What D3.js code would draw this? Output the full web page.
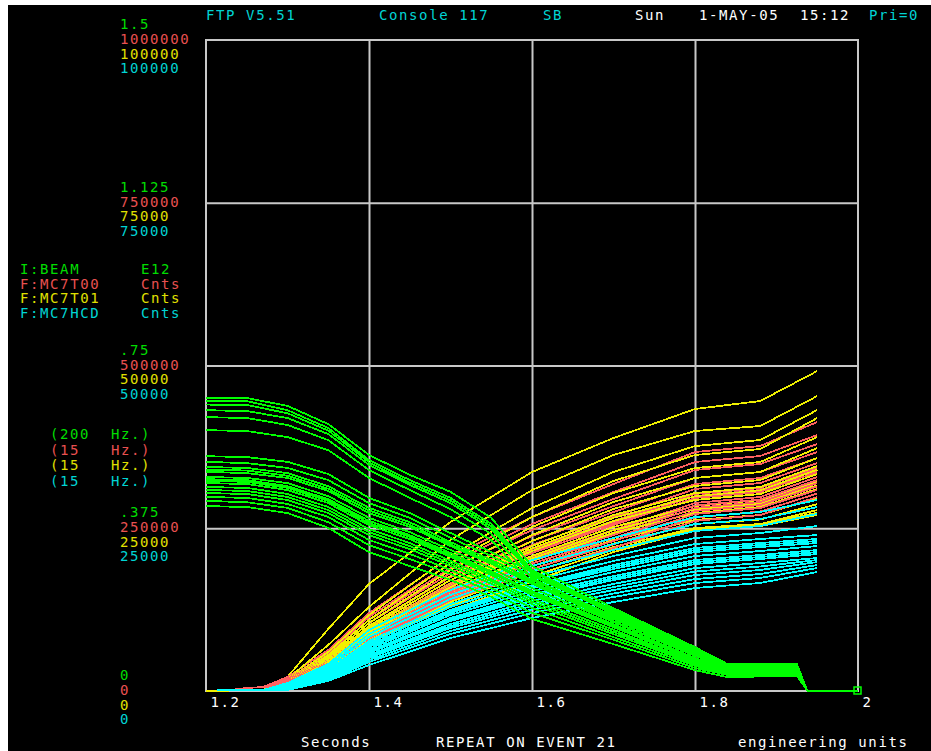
<!DOCTYPE html>
<html>
<head>
<meta charset="utf-8">
<script src="https://cdn.jsdelivr.net/npm/d3@7.9.0/dist/d3.min.js"></script>
<style>
  html, body { margin: 0; padding: 0; background: #fff; }
  svg { display: block; }
  text { font-family: "DejaVu Sans Mono", monospace; font-size: 14px; letter-spacing: 1.6px; }
</style>
</head>
<body>
<div id="chart"></div>
<script>
// ---- data ----
// I:BEAM (E12), 200 Hz
const beamTime = [1.2, 1.25, 1.3, 1.35, 1.4, 1.45, 1.5, 1.55, 1.6, 1.7, 1.8, 1.84, 1.925, 1.938, 2.0];
const beamTraces = [
  [0.675, 0.675, 0.657, 0.615, 0.544, 0.498, 0.459, 0.399, 0.288, 0.191, 0.101, 0.062, 0.062, 0, 0],
  [0.668, 0.668, 0.647, 0.606, 0.532, 0.486, 0.445, 0.385, 0.279, 0.184, 0.097, 0.060, 0.060, 0, 0],
  [0.660, 0.659, 0.640, 0.600, 0.527, 0.480, 0.439, 0.379, 0.275, 0.181, 0.095, 0.059, 0.059, 0, 0],
  [0.647, 0.645, 0.629, 0.592, 0.521, 0.475, 0.433, 0.373, 0.270, 0.177, 0.092, 0.058, 0.058, 0, 0],
  [0.631, 0.629, 0.613, 0.578, 0.509, 0.463, 0.419, 0.362, 0.260, 0.170, 0.088, 0.055, 0.055, 0, 0],
  [0.601, 0.599, 0.585, 0.555, 0.491, 0.445, 0.401, 0.348, 0.247, 0.161, 0.081, 0.053, 0.053, 0, 0],
  [0.541, 0.539, 0.528, 0.500, 0.445, 0.410, 0.364, 0.320, 0.274, 0.187, 0.099, 0.062, 0.060, 0, 0],
  [0.528, 0.525, 0.514, 0.486, 0.433, 0.399, 0.353, 0.311, 0.265, 0.180, 0.094, 0.060, 0.058, 0, 0],
  [0.516, 0.514, 0.502, 0.472, 0.422, 0.389, 0.343, 0.302, 0.256, 0.173, 0.090, 0.058, 0.055, 0, 0],
  [0.510, 0.508, 0.496, 0.466, 0.416, 0.383, 0.338, 0.297, 0.251, 0.169, 0.087, 0.056, 0.054, 0, 0],
  [0.505, 0.502, 0.491, 0.461, 0.410, 0.378, 0.334, 0.293, 0.247, 0.166, 0.085, 0.055, 0.053, 0, 0],
  [0.493, 0.491, 0.479, 0.449, 0.399, 0.366, 0.325, 0.283, 0.237, 0.159, 0.081, 0.053, 0.051, 0, 0],
  [0.488, 0.486, 0.472, 0.442, 0.392, 0.359, 0.318, 0.276, 0.230, 0.154, 0.076, 0.051, 0.048, 0, 0],
  [0.484, 0.482, 0.468, 0.438, 0.387, 0.355, 0.313, 0.272, 0.226, 0.150, 0.074, 0.050, 0.047, 0, 0],
  [0.479, 0.477, 0.463, 0.433, 0.382, 0.350, 0.309, 0.267, 0.221, 0.147, 0.071, 0.048, 0.046, 0, 0],
  [0.470, 0.468, 0.454, 0.424, 0.373, 0.341, 0.300, 0.258, 0.212, 0.141, 0.067, 0.046, 0.044, 0, 0],
  [0.463, 0.461, 0.447, 0.417, 0.366, 0.334, 0.294, 0.253, 0.206, 0.136, 0.065, 0.044, 0.043, 0, 0],
  [0.456, 0.454, 0.440, 0.410, 0.359, 0.327, 0.288, 0.247, 0.200, 0.131, 0.062, 0.041, 0.041, 0, 0],
  [0.447, 0.445, 0.431, 0.401, 0.348, 0.316, 0.279, 0.237, 0.191, 0.124, 0.058, 0.039, 0.039, 0, 0],
  [0.438, 0.435, 0.422, 0.389, 0.336, 0.304, 0.270, 0.228, 0.180, 0.118, 0.053, 0.037, 0.037, 0, 0],
  [0.426, 0.424, 0.410, 0.376, 0.320, 0.288, 0.256, 0.217, 0.166, 0.108, 0.048, 0.032, 0.035, 0, 0]
];

// F:MC7T00 (Cnts), 15 Hz
const redTime = [1.2, 1.23, 1.25, 1.27, 1.3, 1.35, 1.4, 1.5, 1.6, 1.7, 1.8, 1.88, 1.95];
const redTraces = [
  [0, 1500, 4600, 6100, 21500, 63000, 119800, 205800, 267300, 318000, 367100, 376300, 413200],
  [0, 1500, 4600, 6100, 18430, 58370, 113670, 196610, 256510, 305660, 351740, 360960, 393220],
  [0, 1500, 4600, 6100, 16900, 55300, 109060, 188930, 247300, 294910, 339460, 348670, 379390],
  [0, 1500, 4600, 6100, 15360, 52220, 104450, 181250, 238080, 284160, 327170, 336380, 367100],
  [0, 1500, 4600, 6100, 13820, 49150, 99840, 175100, 230400, 274940, 317950, 327170, 357890],
  [0, 1500, 4600, 6100, 13820, 47620, 96770, 170500, 224260, 267260, 310270, 319490, 350210],
  [0, 1500, 4600, 6100, 12290, 46080, 93700, 165890, 218110, 261120, 302590, 311810, 342530],
  [0, 1500, 4600, 6100, 12290, 45300, 92100, 163600, 215000, 258000, 299500, 308700, 339400],
  [0, 1500, 4600, 6100, 12290, 44540, 90620, 161280, 211970, 254980, 296450, 305660, 336380],
  [0, 1500, 4600, 6100, 10750, 43010, 87550, 156670, 205820, 247300, 288770, 297980, 328700],
  [0, 1500, 4600, 6100, 11500, 42200, 86000, 154300, 202700, 243400, 284900, 294100, 324000],
  [0, 1500, 4600, 6100, 10750, 41470, 84480, 152060, 199680, 239620, 281090, 290300, 319490],
  [0, 1500, 4600, 6100, 10000, 39900, 82100, 149000, 195800, 235000, 276500, 285700, 314100],
  [0, 1500, 4600, 6100, 9220, 38400, 79870, 145920, 192000, 230400, 271870, 281090, 308740],
  [0, 1500, 4600, 6100, 8500, 36800, 77500, 142800, 187400, 225000, 266500, 275700, 303400],
  [0, 1500, 4600, 6100, 7680, 35330, 75260, 139780, 182780, 219650, 261120, 270340, 297980]
];

// F:MC7T01 (Cnts), 15 Hz
const yelTime = [1.2, 1.27, 1.3, 1.35, 1.4, 1.5, 1.6, 1.7, 1.8, 1.88, 1.95];
const yelTraces = [
  [0, 150, 2150, 9520, 16440, 25960, 33640, 38860, 43320, 44540, 49150],
  [0, 150, 1840, 7070, 12900, 23190, 30870, 36250, 39940, 40700, 45310],
  [0, 150, 1690, 5990, 11670, 20740, 28110, 33640, 37630, 38550, 43160],
  [0, 150, 1540, 5530, 10910, 19660, 26730, 32260, 36250, 37170, 41930],
  [0, 150, 1380, 5220, 10440, 18590, 25190, 30410, 34250, 35170, 39010],
  [0, 150, 1230, 4920, 9980, 17660, 23960, 29030, 32720, 33640, 37320],
  [0, 150, 1230, 4760, 9680, 17050, 23040, 27960, 31490, 32410, 35790],
  [0, 150, 1080, 4610, 9370, 16440, 22270, 27030, 30410, 31330, 34560],
  [0, 150, 1000, 4500, 9200, 16200, 21900, 26600, 29900, 30800, 34000],
  [0, 150, 1080, 4450, 9060, 15970, 21500, 26110, 29340, 30260, 33330],
  [0, 150, 920, 4300, 8760, 15510, 20740, 25190, 28420, 29340, 32260],
  [0, 150, 900, 4200, 8600, 15200, 20350, 24700, 27900, 28800, 31600],
  [0, 150, 920, 4150, 8450, 14900, 19970, 24270, 27340, 28260, 31030],
  [0, 150, 770, 3840, 7990, 14280, 19200, 23190, 26270, 27030, 29640],
  [0, 150, 770, 3760, 7830, 13970, 18740, 22650, 25650, 26340, 28700],
  [0, 150, 770, 3690, 7680, 13670, 18280, 22120, 25040, 25650, 27800],
  [0, 150, 700, 3550, 7400, 13100, 17600, 21700, 24900, 25500, 27400],
  [0, 150, 610, 3380, 7070, 12440, 16740, 21350, 24730, 25340, 27030]
];

// F:MC7HCD (Cnts), 15 Hz
const cyanTime = [1.213, 1.27, 1.3, 1.35, 1.4, 1.5, 1.6, 1.7, 1.8, 1.88, 1.95];
const cyanTraces = [
  [150, 150, 1230, 4150, 9370, 15510, 20120, 23500, 26730, 27490, 29340],
  [150, 150, 1080, 3840, 8760, 14750, 19200, 22580, 25650, 26420, 28260],
  [150, 150, 920, 3530, 8290, 14130, 18430, 21660, 24580, 25340, 27190],
  [150, 150, 770, 3230, 7680, 13360, 17510, 20740, 23500, 24270, 25340],
  [150, 150, 770, 3070, 7370, 12900, 16900, 19970, 22580, 23350, 23960],
  [150, 150, 690, 2840, 6910, 12210, 16050, 19050, 21660, 22430, 23040],
  [150, 150, 610, 2920, 7070, 12440, 16280, 19350, 21970, 22730, 23350],
  [150, 150, 610, 2760, 6760, 11980, 15820, 18740, 21350, 22120, 22730],
  [150, 150, 610, 2610, 6450, 11670, 15360, 18280, 20740, 21500, 22270],
  [150, 150, 530, 2380, 5990, 10980, 14590, 17350, 19810, 20580, 21350],
  [150, 150, 460, 2460, 6140, 11210, 14900, 17660, 20120, 20890, 21660],
  [150, 150, 460, 2300, 5840, 10750, 14280, 17050, 19510, 20280, 21040],
  [150, 150, 460, 2150, 5530, 10290, 13820, 16440, 18890, 19660, 20430],
  [150, 150, 380, 2070, 5300, 9980, 13440, 15970, 18350, 19120, 20120],
  [150, 150, 310, 2000, 5070, 9680, 13060, 15510, 17820, 18590, 19810],
  [150, 150, 310, 1840, 4760, 9220, 12520, 14970, 17200, 17970, 19350],
  [150, 150, 310, 1690, 4450, 8760, 11980, 14440, 16590, 17360, 18890],
  [150, 150, 150, 1540, 3990, 8140, 11210, 13670, 15820, 16590, 18280]
];

// axis labels
const xTicks = [1.2, 1.4, 1.6, 1.8, 2.0];
const xTickLabels = ["1.2", "1.4", "1.6", "1.8", "2"];
const beamTicks = [0, 0.375, 0.75, 1.125, 1.5];
const beamTickLabels = ["0", ".375", ".75", "1.125", "1.5"];
const redTicks = [0, 250000, 500000, 750000, 1000000];
const yelTicks = [0, 25000, 50000, 75000, 100000];
const cyanTicks = [0, 25000, 50000, 75000, 100000];

const legendNames = ["I:BEAM", "F:MC7T00", "F:MC7T01", "F:MC7HCD"];
const legendUnits = ["E12", "Cnts", "Cnts", "Cnts"];
const legendRates = ["200", "15", "15", "15"];

const lineColors = { beam: "#00ff00", red: "#ff6060", yel: "#f0f000", cyan: "#00ffff" };
const textColors = ["#00dd00", "#e85050", "#e0e000", "#00d4d4"];

// ---- layout ----
const width = 931, height = 751;
const plot = { left: 206, right: 858, top: 40, bottom: 691 };

const svg = d3.select('#chart').append('svg')
  .attr('width', width).attr('height', height);

svg.append('rect').attr('x', 8).attr('y', 5)
  .attr('width', width - 8).attr('height', height - 5).attr('fill', '#000');

const x = d3.scaleLinear().domain([1.2, 2.0]).range([plot.left, plot.right]);
const yBeam = d3.scaleLinear().domain([0, 1.5]).range([plot.bottom, plot.top]);
const yRed = d3.scaleLinear().domain([0, 1000000]).range([plot.bottom, plot.top]);
const yYel = d3.scaleLinear().domain([0, 100000]).range([plot.bottom, plot.top]);
const yCyan = d3.scaleLinear().domain([0, 100000]).range([plot.bottom, plot.top]);

// grid
const grid = svg.append('g').attr('class', 'grid');
grid.append('g')
  .attr('transform', `translate(0, ${plot.bottom})`)
  .call(d3.axisBottom(x).tickValues(xTicks.slice(1, -1)).tickFormat('').tickSize(-(plot.bottom - plot.top)));
grid.append('g')
  .attr('transform', `translate(${plot.left}, 0)`)
  .call(d3.axisLeft(yBeam).tickValues(beamTicks.slice(1, -1)).tickFormat('').tickSize(-(plot.right - plot.left)));
grid.selectAll('.domain').remove();
grid.selectAll('line').attr('stroke', '#c8c8c8').attr('stroke-width', 2);
svg.append('rect')
  .attr('x', plot.left).attr('y', plot.top)
  .attr('width', plot.right - plot.left).attr('height', plot.bottom - plot.top)
  .attr('fill', 'none').attr('stroke', '#c8c8c8').attr('stroke-width', 2);

// traces
const traces = svg.append('g').attr('class', 'traces')
  .attr('fill', 'none').attr('stroke-width', 1.8)
  .style('shape-rendering', 'crispEdges');

const makeLine = (times, yScale) => d3.line()
  .x((d, i) => x(times[i]))
  .y(d => yScale(d));

// interleave red / yellow pulses
const ry = traces.append('g');
d3.range(Math.max(redTraces.length, yelTraces.length)).forEach(i => {
  if (yelTraces[i]) ry.append('path').attr('d', makeLine(yelTime, yYel)(yelTraces[i])).attr('stroke', lineColors.yel);
  if (redTraces[i]) ry.append('path').attr('d', makeLine(redTime, yRed)(redTraces[i])).attr('stroke', lineColors.red);
});

traces.append('g').selectAll('path')
  .data(cyanTraces)
  .join('path')
  .attr('d', makeLine(cyanTime, yCyan))
  .attr('stroke', lineColors.cyan);

traces.append('g').selectAll('path')
  .data(beamTraces)
  .join('path')
  .attr('d', makeLine(beamTime, yBeam))
  .attr('stroke', lineColors.beam);

// end marker on beam
svg.append('rect')
  .attr('x', x(2.0) - 4).attr('y', yBeam(0) - 4)
  .attr('width', 7).attr('height', 7)
  .attr('fill', 'none').attr('stroke', lineColors.beam).attr('stroke-width', 1.5);

// x labels
const xAxis = svg.append('g')
  .attr('transform', `translate(0, ${plot.bottom})`)
  .call(d3.axisBottom(x).tickValues(xTicks).tickFormat((d, i) => xTickLabels[i]).tickSize(0));
xAxis.select('.domain').remove();
xAxis.selectAll('text')
  .attr('fill', '#fff').attr('text-anchor', 'start')
  .attr('dx', 4).attr('dy', 0).attr('y', 16)
  .style('font-family', '"DejaVu Sans Mono", monospace').style('font-size', '14px');

// y labels: four stacked scales per gridline
const yGroups = [
  { ticks: beamTicks, labels: beamTickLabels, scale: yBeam, dy: -11 },
  { ticks: redTicks, labels: redTicks.map(String), scale: yRed, dy: 4 },
  { ticks: yelTicks, labels: yelTicks.map(String), scale: yYel, dy: 18.5 },
  { ticks: cyanTicks, labels: cyanTicks.map(String), scale: yCyan, dy: 33 }
];
yGroups.forEach((g, k) => {
  svg.append('g').selectAll('text')
    .data(g.ticks)
    .join('text')
    .attr('x', 120)
    .attr('y', d => g.scale(d) + g.dy)
    .attr('fill', textColors[k])
    .text((d, i) => g.labels[i]);
});

// legend
const legend = svg.append('g');
legendNames.forEach((name, k) => {
  const by = 274 + k * 14.7;
  legend.append('text').attr('x', 20).attr('y', by).attr('fill', textColors[k]).text(name);
  legend.append('text').attr('x', 141).attr('y', by).attr('fill', textColors[k]).text(legendUnits[k]);
  const ry2 = 439 + k * 15.5;
  legend.append('text').attr('x', 50).attr('y', ry2).attr('fill', textColors[k]).text('(' + legendRates[k]);
  legend.append('text').attr('x', 111).attr('y', ry2).attr('fill', textColors[k]).text('Hz.)');
});

// header / footer
const header = [
  { t: "FTP V5.51", x: 206, c: "#00d4d4" },
  { t: "Console 117", x: 379, c: "#00d4d4" },
  { t: "SB", x: 543, c: "#00d4d4" },
  { t: "Sun", x: 635, c: "#ffffff" },
  { t: "1-MAY-05", x: 699, c: "#ffffff" },
  { t: "15:12", x: 800, c: "#ffffff" },
  { t: "Pri=0", x: 869, c: "#00d4d4" }
];
svg.append('g').selectAll('text').data(header).join('text')
  .attr('x', d => d.x).attr('y', 20).attr('fill', d => d.c).text(d => d.t);

const footer = [
  { t: "Seconds", x: 301 },
  { t: "REPEAT ON EVENT 21", x: 436 },
  { t: "engineering units", x: 738 }
];
svg.append('g').selectAll('text').data(footer).join('text')
  .attr('x', d => d.x).attr('y', 747).attr('fill', '#ffffff').text(d => d.t);
</script>
</body>
</html>
